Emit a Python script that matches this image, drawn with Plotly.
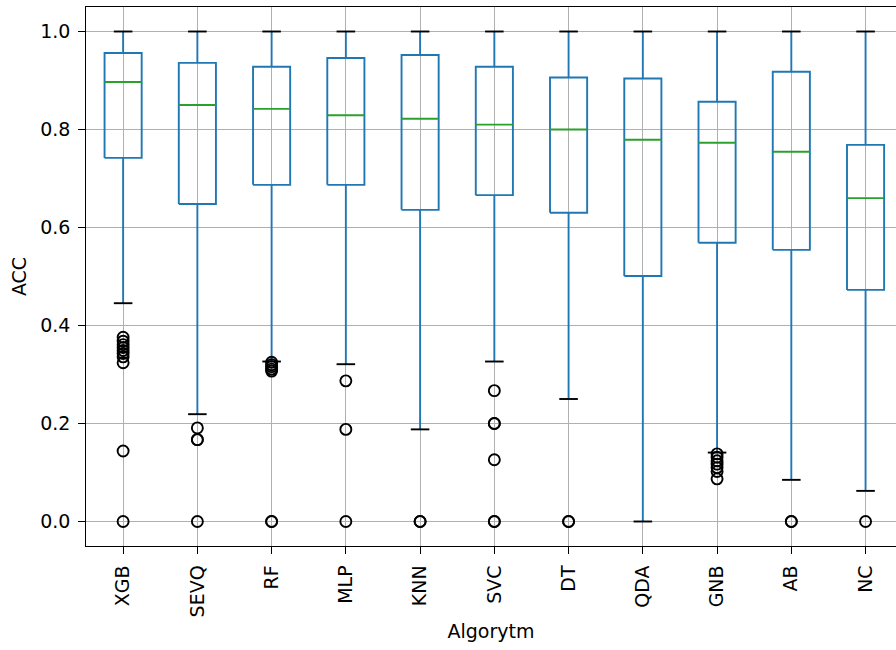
import plotly.graph_objects as go

categories = ["XGB", "SEVQ", "RF", "MLP", "KNN", "SVC", "DT", "QDA", "GNB", "AB", "NC"]
upper_whisker = [1.0, 1.0, 1.0, 1.0, 1.0, 1.0, 1.0, 1.0, 1.0, 1.0, 1.0]
q3 = [0.956, 0.936, 0.928, 0.946, 0.952, 0.928, 0.906, 0.904, 0.8565, 0.918, 0.7686]
median = [0.897, 0.850, 0.842, 0.829, 0.822, 0.810, 0.800, 0.779, 0.773, 0.7545, 0.660]
q1 = [0.742, 0.648, 0.687, 0.687, 0.636, 0.666, 0.630, 0.501, 0.569, 0.5544, 0.4727]
lower_whisker = [0.4455, 0.219, 0.3265, 0.321, 0.188, 0.3265, 0.250, 0.0, 0.1407, 0.085, 0.0625]
outliers = [
    [0.376, 0.368, 0.361, 0.355, 0.349, 0.343, 0.336, 0.324, 0.144, 0.0],
    [0.191, 0.167, 0.167, 0.0],
    [0.325, 0.320, 0.316, 0.311, 0.307, 0.0, 0.0],
    [0.287, 0.188, 0.0],
    [0.0, 0.0],
    [0.267, 0.200, 0.200, 0.126, 0.0, 0.0],
    [0.0, 0.0],
    [],
    [0.138, 0.131, 0.124, 0.117, 0.110, 0.102, 0.087],
    [0.0, 0.0],
    [0.0],
]

BLUE = "#1f77b4"
GREEN = "#2ca02c"
BOX_HALF = 0.25
CAP_HALF = 0.125
LW = 1.9

positions = list(range(1, len(categories) + 1))

box_x, box_y = [], []
cap_x, cap_y = [], []
med_x, med_y = [], []
out_x, out_y = [], []
for p, lo, a, m, b, hi, outs in zip(positions, lower_whisker, q1, median, q3, upper_whisker, outliers):
    # box
    box_x += [p - BOX_HALF, p + BOX_HALF, p + BOX_HALF, p - BOX_HALF, p - BOX_HALF, None]
    box_y += [a, a, b, b, a, None]
    # whiskers
    box_x += [p, p, None, p, p, None]
    box_y += [a, lo, None, b, hi, None]
    # caps
    cap_x += [p - CAP_HALF, p + CAP_HALF, None, p - CAP_HALF, p + CAP_HALF, None]
    cap_y += [lo, lo, None, hi, hi, None]
    # median
    med_x += [p - BOX_HALF, p + BOX_HALF, None]
    med_y += [m, m, None]
    out_x += [p] * len(outs)
    out_y += list(outs)

fig = go.Figure()
fig.add_trace(go.Scatter(x=box_x, y=box_y, mode="lines", line=dict(color=BLUE, width=LW),
                         showlegend=False, hoverinfo="skip"))
fig.add_trace(go.Scatter(x=cap_x, y=cap_y, mode="lines", line=dict(color="black", width=LW),
                         showlegend=False, hoverinfo="skip"))
fig.add_trace(go.Scatter(x=med_x, y=med_y, mode="lines", line=dict(color=GREEN, width=LW),
                         showlegend=False, hoverinfo="skip"))
fig.add_trace(go.Scatter(x=out_x, y=out_y, mode="markers",
                         marker=dict(symbol="circle-open", size=11, color="black",
                                     line=dict(width=1.9, color="black")),
                         showlegend=False))

FONT = dict(family="DejaVu Sans", size=19, color="black")

fig.update_layout(
    width=896, height=650,
    margin=dict(l=86, r=0, t=7, b=104),
    paper_bgcolor="white", plot_bgcolor="white",
    font=FONT,
    showlegend=False,
)
fig.update_xaxes(
    range=[0.5, 11.41],
    tickmode="array", tickvals=positions, ticktext=categories, tickangle=-90,
    showgrid=True, gridcolor="#b0b0b0", gridwidth=1.4,
    showline=True, linecolor="black", linewidth=1.4, mirror=True,
    ticks="outside", ticklen=6.6, tickwidth=1.4, tickcolor="black",
    ticklabelstandoff=4,
    zeroline=False,
    title=dict(text="Algorytm", standoff=8, font=FONT),
    automargin=False,
)
fig.update_yaxes(
    range=[-0.05, 1.05],
    tickmode="array", tickvals=[0.0, 0.2, 0.4, 0.6, 0.8, 1.0],
    ticktext=["0.0", "0.2", "0.4", "0.6", "0.8", "1.0"],
    showgrid=True, gridcolor="#b0b0b0", gridwidth=1.4,
    showline=True, linecolor="black", linewidth=1.4, mirror=False,
    ticks="outside", ticklen=6.6, tickwidth=1.4, tickcolor="black",
    ticklabelstandoff=4,
    zeroline=False,
    title=dict(text="ACC", standoff=8, font=FONT),
    automargin=False,
)

fig.write_html("out.html")
